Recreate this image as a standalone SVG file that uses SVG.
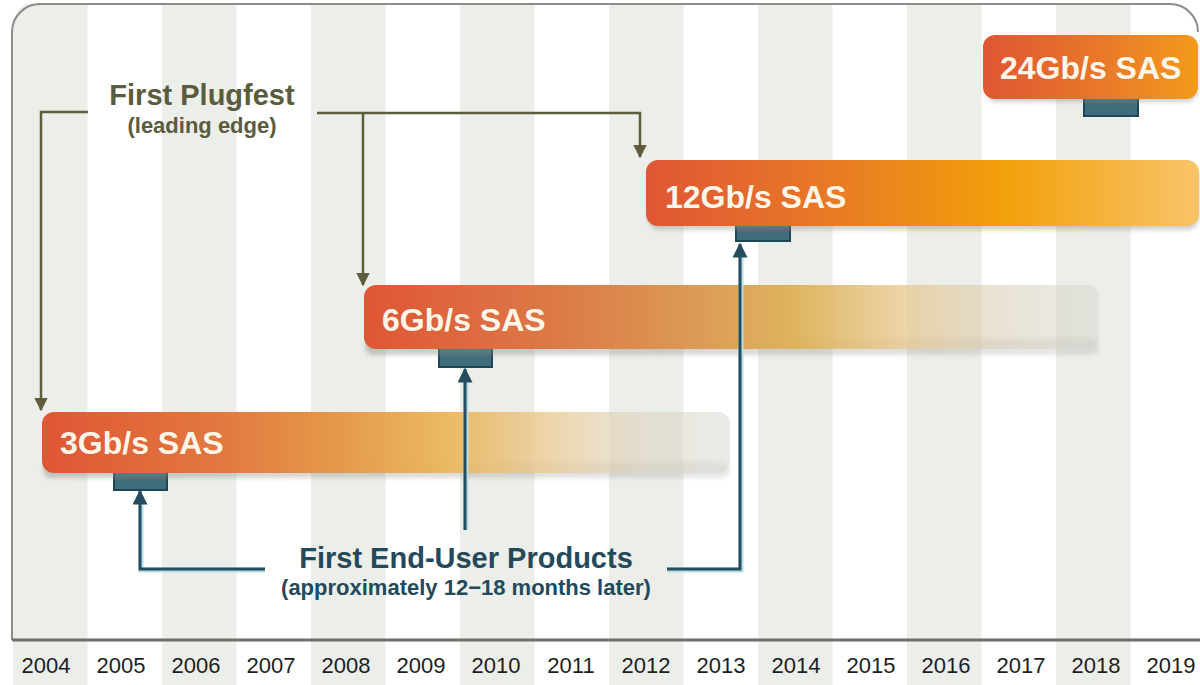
<svg xmlns="http://www.w3.org/2000/svg" width="1200" height="685" viewBox="0 0 1200 685">
<style>
.stripe{fill:#eceee9}
.year{font-family:"Liberation Sans",Arial,sans-serif;font-size:22px;fill:#1e1e1e;text-anchor:middle}
.barlabel{font-family:"Liberation Sans",Arial,sans-serif;font-size:32px;font-weight:bold;fill:#fff6ea}
.olive{font-family:"Liberation Sans",Arial,sans-serif;font-weight:bold;fill:#5b5b3d;text-anchor:middle}
.teal{font-family:"Liberation Sans",Arial,sans-serif;font-weight:bold;fill:#24495a;text-anchor:middle}
.tab{fill:#3f6d7c;stroke:#1d4757;stroke-width:2}
.oline{fill:none;stroke:#5e5e3e;stroke-width:2.5}
.tglow{fill:none;stroke:#b8dde5;stroke-width:5}
.tline{fill:none;stroke:#244e5f;stroke-width:3}
.shadow{fill:#8a8a86;opacity:0.4}
</style>
<defs>
<filter id="blur" x="-5%" y="-30%" width="110%" height="160%"><feGaussianBlur stdDeviation="2"/></filter>
<marker id="oarrow" viewBox="0 0 10 10" refX="9" refY="5" markerWidth="5.5" markerHeight="5.5" orient="auto" markerUnits="strokeWidth"><path d="M0,0 L10,5 L0,10 Z" fill="#5e5e3e"/></marker>
<marker id="tarrow" viewBox="0 0 10 10" refX="9" refY="5" markerWidth="5" markerHeight="5" orient="auto" markerUnits="strokeWidth"><path d="M0,0 L10,5 L0,10 Z" fill="#244e5f"/></marker>
<linearGradient id="g24" x1="0" y1="0" x2="1" y2="0"><stop offset="0" stop-color="#df5634"/><stop offset="0.5" stop-color="#e8752a"/><stop offset="1" stop-color="#f39a1c"/></linearGradient>
<linearGradient id="g12" x1="0" y1="0" x2="1" y2="0"><stop offset="0" stop-color="#df5634"/><stop offset="0.3" stop-color="#e77628"/><stop offset="0.65" stop-color="#f2a00a"/><stop offset="1" stop-color="#f9c46a"/></linearGradient>
<linearGradient id="g6" x1="0" y1="0" x2="1" y2="0"><stop offset="0" stop-color="#df5634"/><stop offset="0.27" stop-color="#dc7b48"/><stop offset="0.45" stop-color="#dc9a55"/><stop offset="0.59" stop-color="#deb258" stop-opacity="0.95"/><stop offset="0.73" stop-color="#e8c98f" stop-opacity="0.8"/><stop offset="0.86" stop-color="#dcd0b8" stop-opacity="0.6"/><stop offset="1" stop-color="#d6d6d0" stop-opacity="0.5"/></linearGradient>
<linearGradient id="g3" x1="0" y1="0" x2="1" y2="0"><stop offset="0" stop-color="#df5634"/><stop offset="0.25" stop-color="#e2773f"/><stop offset="0.43" stop-color="#e5994a"/><stop offset="0.59" stop-color="#eab65c" stop-opacity="0.95"/><stop offset="0.75" stop-color="#e9cd9c" stop-opacity="0.8"/><stop offset="0.88" stop-color="#ddd4c2" stop-opacity="0.6"/><stop offset="1" stop-color="#d6d6d0" stop-opacity="0.5"/></linearGradient>
<linearGradient id="gs" x1="0" y1="0" x2="1" y2="0"><stop offset="0" stop-color="#8a8a86" stop-opacity="0.45"/><stop offset="1" stop-color="#8a8a86" stop-opacity="0.2"/></linearGradient>
</defs>
<rect width="1200" height="685" fill="#ffffff"/>
<g id="stripes">
<rect class="stripe" x="13" y="4" width="74.5" height="681"/>
<rect class="stripe" x="162" y="4" width="74.5" height="681"/>
<rect class="stripe" x="311" y="4" width="74.5" height="681"/>
<rect class="stripe" x="460" y="4" width="74.5" height="681"/>
<rect class="stripe" x="609" y="4" width="74.5" height="681"/>
<rect class="stripe" x="758" y="4" width="74.5" height="681"/>
<rect class="stripe" x="907" y="4" width="74.5" height="681"/>
<rect class="stripe" x="1056" y="4" width="74.5" height="681"/>
</g>
<path d="M0,0 H40 A28,28 0 0 0 12,28 V0 Z" fill="#fff"/>
<path d="M1200,0 H1170 A28,28 0 0 1 1198,28 V0 Z" fill="#fff"/>
<path d="M12,640 V32 A28,28 0 0 1 40,4 H1170 A28,28 0 0 1 1198,32" fill="none" stroke="#8c8c88" stroke-width="2"/>
<line x1="12" y1="640" x2="1200" y2="640" stroke="#6e6e6a" stroke-width="3"/>
<g id="years">
<text class="year" x="46" y="673">2004</text>
<text class="year" x="121" y="673">2005</text>
<text class="year" x="196" y="673">2006</text>
<text class="year" x="271" y="673">2007</text>
<text class="year" x="346" y="673">2008</text>
<text class="year" x="421" y="673">2009</text>
<text class="year" x="496" y="673">2010</text>
<text class="year" x="571" y="673">2011</text>
<text class="year" x="646" y="673">2012</text>
<text class="year" x="721" y="673">2013</text>
<text class="year" x="796" y="673">2014</text>
<text class="year" x="871" y="673">2015</text>
<text class="year" x="946" y="673">2016</text>
<text class="year" x="1021" y="673">2017</text>
<text class="year" x="1096" y="673">2018</text>
<text class="year" x="1171" y="673">2019</text>
</g>
<g id="sas3">
<rect class="tab" x="114" y="462" width="53" height="28"/>
<rect x="43" y="462" width="687" height="16" rx="8" fill="url(#gs)" filter="url(#blur)"/>
<rect x="42" y="412" width="688" height="61" rx="12" fill="url(#g3)"/>
<text class="barlabel" x="60" y="454">3Gb/s SAS</text>
</g>
<g id="sas6">
<rect class="tab" x="439" y="340" width="53" height="27"/>
<rect x="365" y="338" width="734" height="17" rx="8" fill="url(#gs)" filter="url(#blur)"/>
<rect x="364" y="285" width="735" height="64" rx="12" fill="url(#g6)"/>
<text class="barlabel" x="382" y="331">6Gb/s SAS</text>
</g>
<g id="sas12">
<rect class="tab" x="736" y="220" width="54" height="21"/>
<rect class="shadow" x="648" y="165" width="551" height="65" rx="12" filter="url(#blur)"/>
<rect x="646" y="160" width="553" height="66" rx="12" fill="url(#g12)"/>
<text class="barlabel" x="665" y="208">12Gb/s SAS</text>
</g>
<g id="sas24">
<rect class="tab" x="1084" y="90" width="54" height="26"/>
<rect class="shadow" x="985" y="40" width="213" height="62" rx="12" filter="url(#blur)"/>
<rect x="983" y="35" width="215" height="64" rx="12" fill="url(#g24)"/>
<text class="barlabel" x="1000" y="79">24Gb/s SAS</text>
</g>
<g id="plugfest-label">
<text class="olive" x="202" y="105" font-size="29">First Plugfest</text>
<text class="olive" x="202" y="133" font-size="22">(leading edge)</text>
</g>
<g id="enduser-label">
<text class="teal" x="466" y="568" font-size="29">First End-User Products</text>
<text class="teal" x="466" y="595" font-size="22">(approximately 12−18 months later)</text>
</g>
<g id="connectors">
<path class="oline" d="M88,112 H41 V410" marker-end="url(#oarrow)"/>
<path class="oline" d="M317,113 H640 V157" marker-end="url(#oarrow)"/>
<path class="oline" d="M363,113 V285" marker-end="url(#oarrow)"/>
<path class="tglow" d="M265,570 H141 V500"/>
<path class="tglow" d="M466,530 V378"/>
<path class="tglow" d="M667,570 H741 V253"/>
<path class="tline" d="M265,569 H140 V491" marker-end="url(#tarrow)"/>
<path class="tline" d="M465,530 V369" marker-end="url(#tarrow)"/>
<path class="tline" d="M667,569 H740 V244" marker-end="url(#tarrow)"/>
</g>
</svg>
